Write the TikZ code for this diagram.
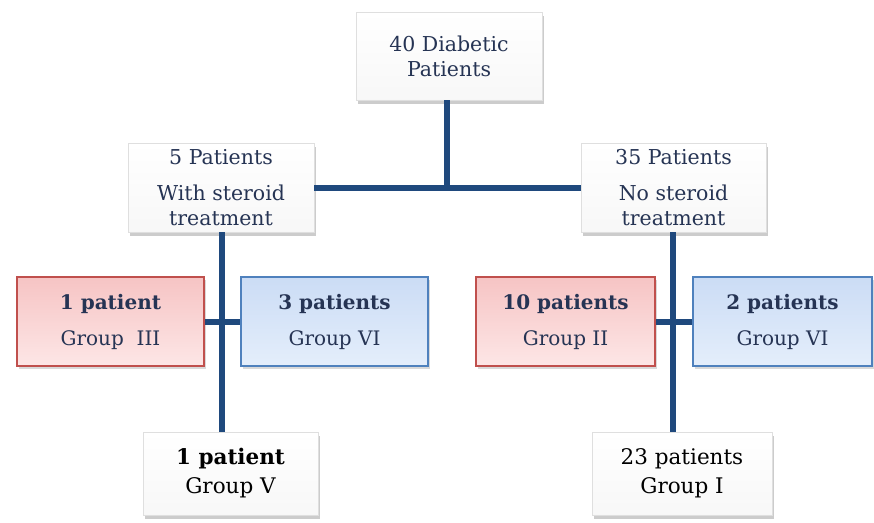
\documentclass[tikz,border=0pt]{standalone}
\usepackage{fontspec}
\setmainfont{DejaVu Serif}
\usetikzlibrary{shadows}
\definecolor{navy}{RGB}{31,73,125}
\definecolor{txt}{RGB}{38,52,84}
\definecolor{redtop}{RGB}{246,196,196}
\definecolor{redbot}{RGB}{253,230,230}
\definecolor{redline}{RGB}{192,80,77}
\definecolor{bluetop}{RGB}{203,220,245}
\definecolor{bluebot}{RGB}{228,238,251}
\definecolor{blueline}{RGB}{79,129,189}
\tikzset{
  whitebox/.style={draw=gray!25, line width=0.6pt, top color=white, bottom color=gray!6,
    drop shadow={opacity=0.4, shadow xshift=1.5pt, shadow yshift=-3.5pt},
    align=center, font=\fontsize{20.5}{25}\selectfont, inner sep=0pt},
  redbox/.style={draw=redline, line width=2.5pt, top color=redtop, bottom color=redbot,
    drop shadow={opacity=0.3, shadow xshift=1.5pt, shadow yshift=-3pt},
    align=center, font=\fontsize{20}{25}\selectfont, text=txt, inner sep=0pt},
  bluebox/.style={draw=blueline, line width=2.5pt, top color=bluetop, bottom color=bluebot,
    drop shadow={opacity=0.3, shadow xshift=1.5pt, shadow yshift=-3pt},
    align=center, font=\fontsize{20}{25}\selectfont, text=txt, inner sep=0pt},
  link/.style={draw=navy, line width=6pt}
}
\begin{document}
\begin{tikzpicture}[x=1pt,y=-1pt]
\useasboundingbox (0,0) rectangle (874,522);
% nodes
\node[whitebox, text=txt, minimum width=186pt, minimum height=88pt] (top) at (449,56)
  {40 Diabetic\\ Patients};
\node[whitebox, text=txt, minimum width=186pt, minimum height=89pt] (lmid) at (221,187.5)
  {5 Patients\\[11pt] With steroid\\ treatment};
\node[whitebox, text=txt, minimum width=185pt, minimum height=89pt] (rmid) at (673.5,187.5)
  {35 Patients\\[11pt] No steroid\\ treatment};
\node[redbox, minimum width=187pt, minimum height=89pt] (lred) at (110.5,321.5)
  {\textbf{1 patient}\\[11pt] Group\ \ III};
\node[bluebox, minimum width=187pt, minimum height=89pt] (lblue) at (334.5,321.5)
  {\textbf{3 patients}\\[11pt] Group VI};
\node[redbox, minimum width=179pt, minimum height=89pt] (rred) at (565.5,321.5)
  {\textbf{10 patients}\\[11pt] Group II};
\node[bluebox, minimum width=179pt, minimum height=89pt] (rblue) at (782.5,321.5)
  {\textbf{2 patients}\\[11pt] Group VI};
\node[whitebox, text=black, minimum width=175pt, minimum height=83pt,
  font=\fontsize{21.5}{29}\selectfont] (lbot) at (230.5,473.5)
  {\textbf{1 patient}\\ Group V};
\node[whitebox, text=black, minimum width=180pt, minimum height=83pt,
  font=\fontsize{21.5}{29}\selectfont] (rbot) at (682,473.5)
  {23 patients\\ Group I};
% connectors
\draw[link] (top.south) ++(-2,0) coordinate (ts) -- (ts |- lmid.east);
\draw[link] (lmid.east) -- (rmid.west);
\draw[link] (lmid.south) ++(1,0) coordinate (ls) -- (ls |- lbot.north);
\draw[link] (lred.east) -- (lblue.west);
\draw[link] (rmid.south) ++(-1,0) coordinate (rs) -- (rs |- rbot.north);
\draw[link] (rred.east) -- (rblue.west);
\end{tikzpicture}
\end{document}
